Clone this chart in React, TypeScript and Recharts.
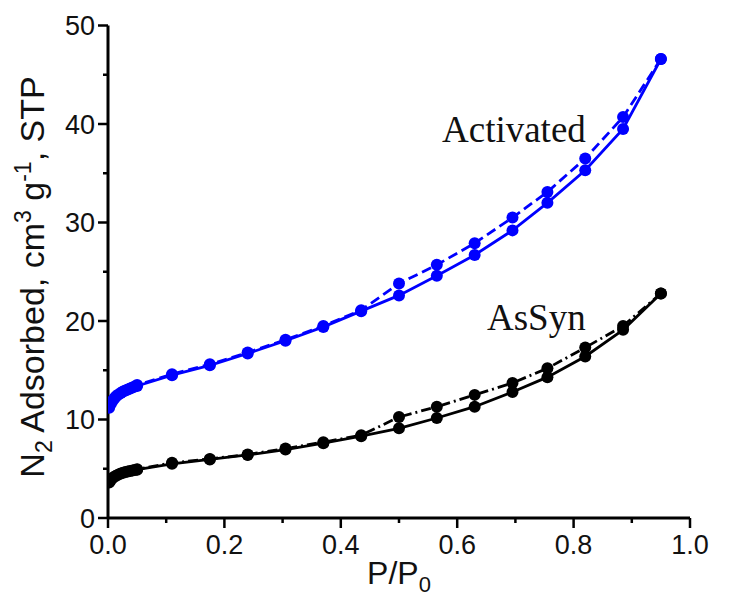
import React from "react";
import { LineChart, Line, XAxis, YAxis, Customized } from "recharts";

// Relative pressure P/P0 for adsorption branch (shared by both samples)
const adsP = [0.002, 0.005, 0.008, 0.011, 0.014, 0.018, 0.022, 0.026, 0.03, 0.034, 0.038, 0.042, 0.046, 0.05, 0.11, 0.175, 0.24, 0.305, 0.37, 0.435, 0.5, 0.565, 0.63, 0.695, 0.755, 0.82, 0.885, 0.95];
// Relative pressure for desorption branch
const desP = [0.95, 0.885, 0.82, 0.755, 0.695, 0.63, 0.565, 0.5, 0.435, 0.37, 0.305, 0.24, 0.175, 0.11, 0.05];

const activatedAds = [11.2, 11.6, 11.9, 12.15, 12.35, 12.55, 12.7, 12.85, 12.95, 13.05, 13.15, 13.25, 13.35, 13.4, 14.5, 15.5, 16.7, 18.0, 19.4, 21.0, 22.6, 24.6, 26.7, 29.2, 32.0, 35.3, 39.5, 46.6];
const activatedDes = [46.6, 40.7, 36.5, 33.1, 30.5, 27.9, 25.7, 23.8, 21.1, 19.5, 18.1, 16.8, 15.6, 14.6, 13.5];
const asSynAds = [3.6, 3.85, 4.05, 4.2, 4.3, 4.42, 4.52, 4.6, 4.66, 4.72, 4.78, 4.83, 4.87, 4.9, 5.5, 5.95, 6.4, 6.95, 7.6, 8.3, 9.1, 10.15, 11.3, 12.8, 14.3, 16.4, 19.1, 22.8];
const asSynDes = [22.8, 19.5, 17.3, 15.2, 13.7, 12.5, 11.3, 10.25, 8.4, 7.7, 7.05, 6.45, 6.0, 5.6, 4.95];

const xTicks = [0, 0.1, 0.2, 0.3, 0.4, 0.5, 0.6, 0.7, 0.8, 0.9, 1.0];
const yTicks = [0, 5, 10, 15, 20, 25, 30, 35, 40, 45, 50];

const BLUE = "#0000FF";
const BLACK = "#000000";
const SANS = "'Liberation Sans', Arial, sans-serif";
const SERIF = "'Liberation Serif', 'Times New Roman', serif";

const toRows = (ps: number[], vs: number[]) => ps.map((p, i) => ({ p, v: vs[i] }));

const actAdsRows = toRows(adsP, activatedAds);
const actDesRows = toRows(desP, activatedDes);
const synAdsRows = toRows(adsP, asSynAds);
const synDesRows = toRows(desP, asSynDes);

const XTick = (props: any) => {
  const { x, y, payload } = props;
  const v = payload.value as number;
  const major = Math.round(v * 10) % 2 === 0;
  return (
    <g>
      <line x1={x} y1={y} x2={x} y2={y + (major ? 10 : 5)} stroke={BLACK} strokeWidth={2.5} />
      {major && (
        <text x={x} y={y + 36} textAnchor="middle" fontSize={27} fontFamily={SANS} fill="#111">
          {v.toFixed(1)}
        </text>
      )}
    </g>
  );
};

const YTick = (props: any) => {
  const { x, y, payload } = props;
  const v = payload.value as number;
  const major = v % 10 === 0;
  return (
    <g>
      <line x1={x} y1={y} x2={x - (major ? 10 : 5)} y2={y} stroke={BLACK} strokeWidth={2.5} />
      {major && (
        <text x={x - 13} y={y + 9.5} textAnchor="end" fontSize={27} fontFamily={SANS} fill="#111">
          {v}
        </text>
      )}
    </g>
  );
};

const Annotations = () => (
  <g>
    <text x={434} y={134} fontSize={37} fontFamily={SERIF} fill="#111">Activated</text>
    <text x={479} y={322} fontSize={37} fontFamily={SERIF} fill="#111">AsSyn</text>
    <text x={391} y={576} textAnchor="middle" fontSize={32} fontFamily={SANS} fill="#111">
      P/P<tspan fontSize={22} dy={8}>0</tspan>
    </text>
    <text transform="translate(36,269) rotate(-90)" textAnchor="middle" fontSize={34} fontFamily={SANS} fill="#111">
      N<tspan fontSize={23} dy={8}>2</tspan>
      <tspan dy={-8}> Adsorbed, cm</tspan>
      <tspan fontSize={23} dy={-13}>3</tspan>
      <tspan dy={13}> g</tspan>
      <tspan fontSize={23} dy={-13}>-1</tspan>
      <tspan dy={13}>, STP</tspan>
    </text>
  </g>
);

export default function App() {
  return (
    <LineChart width={730} height={589} margin={{ top: 17.5, right: 48, bottom: 0, left: 0 }}>
      <XAxis
        dataKey="p"
        type="number"
        domain={[0, 1]}
        ticks={xTicks}
        interval={0}
        tick={<XTick />}
        tickLine={false}
        tickSize={0}
        tickMargin={0}
        axisLine={{ stroke: BLACK, strokeWidth: 3 }}
        height={79}
        allowDataOverflow
      />
      <YAxis
        dataKey="v"
        type="number"
        domain={[0, 50]}
        ticks={yTicks}
        interval={0}
        tick={<YTick />}
        tickLine={false}
        tickSize={0}
        tickMargin={0}
        axisLine={{ stroke: BLACK, strokeWidth: 3 }}
        width={100}
        allowDataOverflow
      />
      <Line data={actAdsRows} dataKey="v" stroke={BLUE} strokeWidth={2.8} dot={{ r: 6, fill: BLUE, stroke: BLUE, strokeWidth: 0 }} isAnimationActive={false} />
      <Line data={actDesRows} dataKey="v" stroke={BLUE} strokeWidth={2.8} strokeDasharray="10 5" dot={{ r: 6, fill: BLUE, stroke: BLUE, strokeWidth: 0 }} isAnimationActive={false} />
      <Line data={synAdsRows} dataKey="v" stroke={BLACK} strokeWidth={2.8} dot={{ r: 6, fill: BLACK, stroke: BLACK, strokeWidth: 0 }} isAnimationActive={false} />
      <Line data={synDesRows} dataKey="v" stroke={BLACK} strokeWidth={2.8} strokeDasharray="10 4 2 4" dot={{ r: 6, fill: BLACK, stroke: BLACK, strokeWidth: 0 }} isAnimationActive={false} />
      <Customized component={Annotations} />
    </LineChart>
  );
}
